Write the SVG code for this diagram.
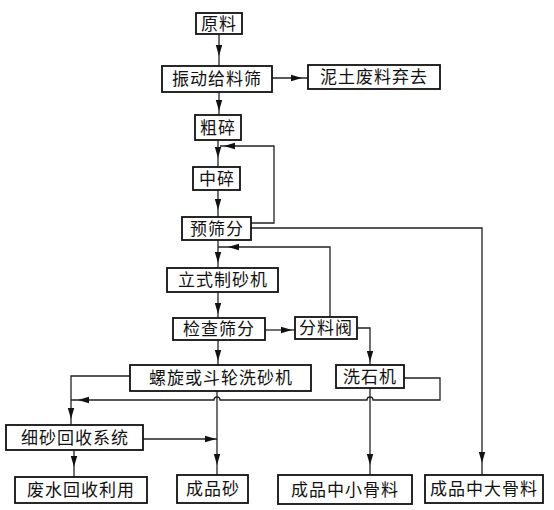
<svg xmlns="http://www.w3.org/2000/svg" xmlns:xlink="http://www.w3.org/1999/xlink" width="554" height="510" viewBox="0 0 554 510">
<style>
.b{fill:#fff;stroke:#111;stroke-width:1.8}
.t{font-family:"Noto Sans CJK SC","Liberation Serif",serif;font-size:17px;fill:#111;text-anchor:middle;letter-spacing:1px}
.c{fill:none;stroke:#222;stroke-width:1.3}
</style>
<defs>
<path id="ah" d="M0,0 L-11,-3.2 L-11,3.2 z" fill="#111"/>
</defs>
<rect width="554" height="510" fill="#fff"/>
<g id="connectors">
<path class="c" d="M219,34 V66"/><use xlink:href="#ah" transform="translate(219,56) rotate(90)"/>
<path class="c" d="M272,78 H308"/><use xlink:href="#ah" transform="translate(302,78)"/>
<path class="c" d="M219,92 V115"/><use xlink:href="#ah" transform="translate(219,111) rotate(90)"/>
<path class="c" d="M218,140 V167"/><use xlink:href="#ah" transform="translate(218,158) rotate(90)"/>
<path class="c" d="M218,190 V217"/><use xlink:href="#ah" transform="translate(218,210) rotate(90)"/>
<path class="c" d="M251,223 H274 V146 H220"/><use xlink:href="#ah" transform="translate(224,146) rotate(180)"/>
<path class="c" d="M218,240 V268"/><use xlink:href="#ah" transform="translate(218,263) rotate(90)"/>
<path class="c" d="M251,228 H482 V475"/><use xlink:href="#ah" transform="translate(482,463) rotate(90)"/>
<path class="c" d="M218,292 V318"/><use xlink:href="#ah" transform="translate(218,314) rotate(90)"/>
<path class="c" d="M265,330 H295"/><use xlink:href="#ah" transform="translate(292,330)"/>
<path class="c" d="M330,317 V247 H218"/><use xlink:href="#ah" transform="translate(228,247) rotate(180)"/>
<path class="c" d="M218,340 V365"/><use xlink:href="#ah" transform="translate(218,361) rotate(90)"/>
<path class="c" d="M357,328 H370 V365"/><use xlink:href="#ah" transform="translate(370,362) rotate(90)"/>
<path class="c" d="M130,376 H71 V425"/><use xlink:href="#ah" transform="translate(71,419) rotate(90)"/>
<path class="c" d="M404,378 H440 V400 H373 A3,3 0 0 0 367,400 H220 A3,3 0 0 0 214,400 H71"/><use xlink:href="#ah" transform="translate(78,400) rotate(180)"/>
<path class="c" d="M217,391 V475"/><use xlink:href="#ah" transform="translate(217,465) rotate(90)"/>
<path class="c" d="M143,439 H217"/><use xlink:href="#ah" transform="translate(216,439)"/>
<path class="c" d="M74,450 V477"/><use xlink:href="#ah" transform="translate(74,467) rotate(90)"/>
<path class="c" d="M370,388 V475"/><use xlink:href="#ah" transform="translate(370,465) rotate(90)"/>
</g>
<g id="n1"><rect class="b" x="196" y="13" width="46" height="21"/><text class="t" x="219" y="30">原料</text></g>
<g id="n2"><rect class="b" x="162" y="66" width="110" height="26"/><text class="t" x="217" y="85">振动给料筛</text></g>
<g id="n3"><rect class="b" x="308" y="65" width="132" height="24"/><text class="t" x="374" y="83">泥土废料弃去</text></g>
<g id="n4"><rect class="b" x="195" y="115" width="46" height="25"/><text class="t" x="218" y="134">粗碎</text></g>
<g id="n5"><rect class="b" x="193" y="167" width="47" height="23"/><text class="t" x="217" y="185">中碎</text></g>
<g id="n6"><rect class="b" x="182" y="217" width="69" height="23"/><text class="t" x="217" y="235">预筛分</text></g>
<g id="n7"><rect class="b" x="167" y="268" width="111" height="24"/><text class="t" x="223" y="286">立式制砂机</text></g>
<g id="n8"><rect class="b" x="173" y="318" width="92" height="22"/><text class="t" x="219" y="335">检查筛分</text></g>
<g id="n9"><rect class="b" x="295" y="317" width="62" height="22"/><text class="t" x="326" y="334">分料阀</text></g>
<g id="n10"><rect class="b" x="130" y="365" width="181" height="26"/><text class="t" x="221" y="384">螺旋或斗轮洗砂机</text></g>
<g id="n11"><rect class="b" x="336" y="365" width="68" height="23"/><text class="t" x="370" y="383">洗石机</text></g>
<g id="n12"><rect class="b" x="6" y="425" width="137" height="25"/><text class="t" x="75" y="444">细砂回收系统</text></g>
<g id="n13"><rect class="b" x="15" y="477" width="132" height="26"/><text class="t" x="81" y="496">废水回收利用</text></g>
<g id="n14"><rect class="b" x="177" y="475" width="71" height="28"/><text class="t" x="213" y="495">成品砂</text></g>
<g id="n15"><rect class="b" x="278" y="475" width="134" height="29"/><text class="t" x="345" y="496">成品中小骨料</text></g>
<g id="n16"><rect class="b" x="425" y="475" width="118" height="28"/><text class="t" x="484" y="495">成品中大骨料</text></g>
</svg>
